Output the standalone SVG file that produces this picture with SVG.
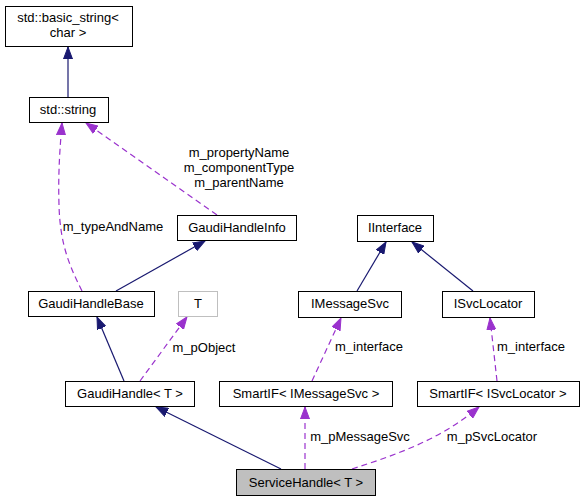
<svg xmlns="http://www.w3.org/2000/svg" width="585" height="501" viewBox="0 0 585 501">
<defs>
<style>
text{font-family:"Liberation Sans",Arial,sans-serif;font-size:13px;fill:#000;text-anchor:middle}
.n rect{fill:#fff;stroke:#000;stroke-width:1}
.g rect{fill:#fff;stroke:#bfbfbf;stroke-width:1}
.s rect{fill:#bfbfbf;stroke:#000;stroke-width:1}
.inh{fill:none;stroke:#191970;stroke-width:1.2}
.use{fill:none;stroke:#9a32cd;stroke-width:1.2;stroke-dasharray:6,4}
</style>
<marker id="an" markerUnits="userSpaceOnUse" markerWidth="14" markerHeight="10" refX="12" refY="5" orient="auto" viewBox="0 0 14 10">
<polygon points="0,0.5 12,5 0,9.5" fill="#191970" stroke="#191970"/>
</marker>
<marker id="ap" markerUnits="userSpaceOnUse" markerWidth="14" markerHeight="10" refX="12" refY="5" orient="auto" viewBox="0 0 14 10">
<polygon points="0,0.5 12,5 0,9.5" fill="#9a32cd" stroke="#9a32cd"/>
</marker>
</defs>
<rect width="585" height="501" fill="#fff"/>
<g id="edges">
<line class="inh" x1="68" y1="97" x2="68" y2="47" marker-end="url(#an)"/>
<line class="inh" x1="116" y1="291" x2="205" y2="241" marker-end="url(#an)"/>
<line class="inh" x1="124" y1="381" x2="97" y2="317" marker-end="url(#an)"/>
<line class="inh" x1="281" y1="469" x2="156" y2="407" marker-end="url(#an)"/>
<line class="inh" x1="357" y1="291" x2="386" y2="242" marker-end="url(#an)"/>
<line class="inh" x1="473" y1="291" x2="412" y2="242" marker-end="url(#an)"/>
<path class="use" d="M82,291 C70,267 60,245 59,205 C58,172 60,148 62,123" marker-end="url(#ap)"/>
<line class="use" x1="217" y1="215" x2="86" y2="123" marker-end="url(#ap)"/>
<line class="use" x1="140" y1="381" x2="187" y2="317" marker-end="url(#ap)"/>
<line class="use" x1="312" y1="381" x2="341" y2="318" marker-end="url(#ap)"/>
<line class="use" x1="497" y1="381" x2="490" y2="318" marker-end="url(#ap)"/>
<line class="use" x1="305" y1="469" x2="305" y2="407" marker-end="url(#ap)"/>
<path class="use" d="M352,469 C395,455 440,440 479,407" marker-end="url(#ap)"/>
<text x="113" y="231">m_typeAndName</text>
<text x="239" y="157">m_propertyName</text>
<text x="239" y="172">m_componentType</text>
<text x="239" y="187">m_parentName</text>
<text x="204" y="352">m_pObject</text>
<text x="369" y="351">m_interface</text>
<text x="531" y="351">m_interface</text>
<text x="360" y="441">m_pMessageSvc</text>
<text x="492" y="441">m_pSvcLocator</text>
</g>
<g id="basic_string" class="n"><rect x="5.5" y="6.5" width="127" height="40"/><text x="68" y="22">std::basic_string&lt;</text><text x="68" y="37">char &gt;</text></g>
<g id="string" class="n"><rect x="29.5" y="97.5" width="79" height="25"/><text x="68" y="114">std::string</text></g>
<g id="GaudiHandleInfo" class="n"><rect x="177.5" y="215.5" width="119" height="25"/><text x="237" y="232">GaudiHandleInfo</text></g>
<g id="GaudiHandleBase" class="n"><rect x="28.5" y="291.5" width="126" height="25"/><text x="91" y="308">GaudiHandleBase</text></g>
<g id="T" class="g"><rect x="178.5" y="291.5" width="39" height="25"/><text x="198" y="308">T</text></g>
<g id="GaudiHandle" class="n"><rect x="65.5" y="381.5" width="129" height="25"/><text x="130" y="398">GaudiHandle&lt; T &gt;</text></g>
<g id="IInterface" class="n"><rect x="357.5" y="215.5" width="76" height="26"/><text x="395" y="232">IInterface</text></g>
<g id="IMessageSvc" class="n"><rect x="298.5" y="291.5" width="103" height="26"/><text x="350" y="308">IMessageSvc</text></g>
<g id="ISvcLocator" class="n"><rect x="442.5" y="291.5" width="92" height="26"/><text x="488" y="308">ISvcLocator</text></g>
<g id="SmartIF_IMessageSvc" class="n"><rect x="219.5" y="381.5" width="173" height="25"/><text x="306" y="398">SmartIF&lt; IMessageSvc &gt;</text></g>
<g id="SmartIF_ISvcLocator" class="n"><rect x="417.5" y="381.5" width="162" height="25"/><text x="498" y="398">SmartIF&lt; ISvcLocator &gt;</text></g>
<g id="ServiceHandle" class="s"><rect x="236.5" y="469.5" width="139" height="26"/><text x="306" y="487">ServiceHandle&lt; T &gt;</text></g>
</svg>
